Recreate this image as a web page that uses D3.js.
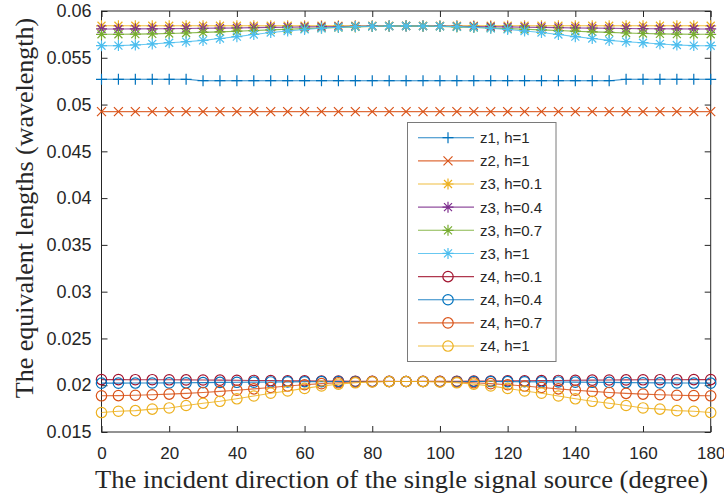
<!DOCTYPE html>
<html>
<head>
<meta charset="utf-8">
<script src="https://cdn.jsdelivr.net/npm/d3@7"></script>
<style>
  html, body { margin: 0; padding: 0; background: #fff; overflow: hidden; }
  svg { display: block; }
</style>
</head>
<body>
<svg id="chart" width="724" height="498"></svg>
<script>
// ---------------- DATA ----------------
const angles = [0,5,10,15,20,25,30,35,40,45,50,55,60,65,70,75,80,85,90,95,100,105,110,115,120,125,130,135,140,145,150,155,160,165,170,175,180];

const xTicks = [0,20,40,60,80,100,120,140,160,180];
const yTicks = [0.015,0.02,0.025,0.03,0.035,0.04,0.045,0.05,0.055,0.06];
const yTickLabels = ["0.015","0.02","0.025","0.03","0.035","0.04","0.045","0.05","0.055","0.06"];

const z1_h1 = [0.0527,0.0527,0.0527,0.0527,0.0527,0.0527,0.05255,0.05255,0.05255,0.05255,0.05255,0.05255,0.05255,0.05255,0.05255,0.05255,0.05255,0.05255,0.05255,0.05255,0.05255,0.05255,0.05255,0.05255,0.05255,0.05255,0.05255,0.05255,0.05255,0.05255,0.05255,0.0527,0.0527,0.0527,0.0527,0.0527,0.0527];
const z2_h1 = [0.04924,0.04924,0.04924,0.04924,0.04924,0.04924,0.04924,0.04924,0.04924,0.04924,0.04924,0.04924,0.04924,0.04924,0.04924,0.04924,0.04924,0.04924,0.04924,0.04924,0.04924,0.04924,0.04924,0.04924,0.04924,0.04924,0.04924,0.04924,0.04924,0.04924,0.04924,0.04924,0.04924,0.04924,0.04924,0.04924,0.04924];
const z3_h01 = [0.05842,0.05842,0.05842,0.05842,0.05842,0.05842,0.05842,0.05842,0.05842,0.05842,0.05842,0.05842,0.05842,0.05842,0.05842,0.05842,0.05842,0.05842,0.05842,0.05842,0.05842,0.05842,0.05842,0.05842,0.05842,0.05842,0.05842,0.05842,0.05842,0.05842,0.05842,0.05842,0.05842,0.05842,0.05842,0.05842,0.05842];
const z3_h04 = [0.05808,0.05808,0.05809,0.05810,0.05811,0.05813,0.05815,0.05817,0.05819,0.05822,0.05825,0.05827,0.05830,0.05832,0.05834,0.05836,0.05838,0.05839,0.0584,0.05839,0.05838,0.05836,0.05834,0.05832,0.05830,0.05827,0.05825,0.05822,0.05819,0.05817,0.05815,0.05813,0.05811,0.05810,0.05809,0.05808,0.05808];
const z3_h07 = [0.05751,0.05751,0.05753,0.05756,0.05760,0.05765,0.05771,0.05777,0.05784,0.05791,0.05798,0.05805,0.05812,0.05818,0.05824,0.05830,0.05835,0.05838,0.0584,0.05838,0.05835,0.05830,0.05824,0.05818,0.05812,0.05805,0.05798,0.05791,0.05784,0.05777,0.05771,0.05765,0.05760,0.05756,0.05753,0.05751,0.05751];
const z3_h1 = [0.05629,0.05630,0.05637,0.05648,0.05661,0.05672,0.05686,0.05706,0.05726,0.05749,0.05770,0.05786,0.05803,0.05815,0.05826,0.05833,0.05837,0.05839,0.0584,0.05839,0.05837,0.05833,0.05826,0.05815,0.05803,0.05786,0.05770,0.05749,0.05726,0.05706,0.05686,0.05672,0.05661,0.05648,0.05637,0.05630,0.05629];
const z4_h01 = [0.0206,0.0206,0.02059,0.02059,0.02058,0.02057,0.02056,0.02054,0.02053,0.02051,0.0205,0.02048,0.02047,0.02045,0.02044,0.02043,0.02042,0.02041,0.0204,0.02041,0.02042,0.02043,0.02044,0.02045,0.02047,0.02048,0.0205,0.02051,0.02053,0.02054,0.02056,0.02057,0.02058,0.02059,0.02059,0.0206,0.0206];
const z4_h04 = [0.02022,0.02022,0.02023,0.02024,0.02025,0.02026,0.02028,0.0203,0.02031,0.02033,0.02035,0.02036,0.02037,0.02038,0.02039,0.0204,0.0204,0.0204,0.0204,0.0204,0.0204,0.0204,0.0204,0.02039,0.02038,0.02037,0.02036,0.02035,0.02033,0.02031,0.0203,0.02028,0.02026,0.02025,0.02024,0.02023,0.02022];
const z4_h07 = [0.01887,0.01889,0.01893,0.01898,0.01905,0.01913,0.01923,0.01934,0.01947,0.01961,0.01976,0.01991,0.02005,0.02017,0.02027,0.02034,0.02038,0.0204,0.0204,0.0204,0.02038,0.02034,0.02027,0.02017,0.02005,0.01991,0.01976,0.01961,0.01947,0.01934,0.01923,0.01913,0.01905,0.01898,0.01893,0.01889,0.01887];
const z4_h1 = [0.01708,0.01722,0.01728,0.01745,0.01757,0.01783,0.01807,0.01828,0.01855,0.01885,0.01915,0.01938,0.01966,0.01992,0.02012,0.02026,0.02035,0.02039,0.0204,0.02039,0.02035,0.02026,0.02012,0.01992,0.01966,0.01938,0.01915,0.01885,0.01855,0.01828,0.01807,0.01783,0.01757,0.01745,0.01728,0.01722,0.01708];

const seriesNames = ["z1, h=1","z2, h=1","z3, h=0.1","z3, h=0.4","z3, h=0.7","z3, h=1","z4, h=0.1","z4, h=0.4","z4, h=0.7","z4, h=1"];
const seriesValues = [z1_h1, z2_h1, z3_h01, z3_h04, z3_h07, z3_h1, z4_h01, z4_h04, z4_h07, z4_h1];
const seriesMarkers = ["plus","cross","star","star","star","star","circle","circle","circle","circle"];
const seriesColors = ["#0072BD","#D95319","#EDB120","#7E2F8E","#77AC30","#4DBEEE","#A2142F","#0072BD","#D95319","#EDB120"];

const xTitle = "The incident direction of the single signal source (degree)";
const yTitle = "The equivalent lengths (wavelength)";

// ---------------- LAYOUT ----------------
const L = 101.5, R = 710.7, T = 11, B = 432;
const axisColor = "#262626";

const svg = d3.select("#chart");
svg.append("rect").attr("width", 724).attr("height", 498).attr("fill", "#fff");

const x = d3.scaleLinear().domain([0, 180]).range([L, R]);
const y = d3.scaleLinear().domain([0.015, 0.06]).range([B, T]);

svg.append("defs").append("clipPath").attr("id", "clip")
  .append("rect").attr("x", L - 8).attr("y", T - 8).attr("width", R - L + 16).attr("height", B - T + 16);

const tickFont = "'Liberation Sans', Arial, Helvetica, sans-serif";
const xAxisB = d3.axisBottom(x).tickValues(xTicks).tickSize(-6).tickPadding(15).tickFormat(d3.format("d"));
const xAxisT = d3.axisTop(x).tickValues(xTicks).tickSize(-6).tickFormat("");
const yAxisL = d3.axisLeft(y).tickValues(yTicks).tickSize(-6).tickPadding(10).tickFormat((d, i) => yTickLabels[i]);
const yAxisR = d3.axisRight(y).tickValues(yTicks).tickSize(-6).tickFormat("");

function styleAxis(g, size) {
  g.selectAll(".tick line").attr("stroke", axisColor).attr("stroke-width", 1);
  g.selectAll(".tick text").attr("fill", axisColor).style("font-family", tickFont).style("font-size", size + "px");
}
svg.append("g").attr("transform", `translate(0,${B})`).call(xAxisB).call(styleAxis, 17)
  .selectAll(".tick text").attr("dy", "0.71em");
svg.append("g").attr("transform", `translate(0,${T})`).call(xAxisT).call(styleAxis, 17);
svg.append("g").attr("transform", `translate(${L},0)`).call(yAxisL).call(styleAxis, 18);
svg.append("g").attr("transform", `translate(${R},0)`).call(yAxisR).call(styleAxis, 18);
svg.selectAll("path.domain").attr("d", null);
svg.append("rect").attr("x", L).attr("y", T).attr("width", R - L).attr("height", B - T)
  .attr("fill", "none").attr("stroke", axisColor).attr("stroke-width", 1);

function drawMarker(g, type, cx, cy, color) {
  if (type === "plus") {
    g.append("path").attr("d", `M${cx-5.5},${cy}H${cx+5.5}M${cx},${cy-5.5}V${cy+5.5}`)
      .attr("stroke", color).attr("stroke-width", 1.2).attr("fill", "none");
  } else if (type === "cross") {
    const s = 4.5;
    g.append("path").attr("d", `M${cx-s},${cy-s}L${cx+s},${cy+s}M${cx-s},${cy+s}L${cx+s},${cy-s}`)
      .attr("stroke", color).attr("stroke-width", 1.2).attr("fill", "none");
  } else if (type === "star") {
    const a = 5.5, s = 4;
    g.append("path").attr("d", `M${cx-a},${cy}H${cx+a}M${cx},${cy-a}V${cy+a}M${cx-s},${cy-s}L${cx+s},${cy+s}M${cx-s},${cy+s}L${cx+s},${cy-s}`)
      .attr("stroke", color).attr("stroke-width", 1.2).attr("fill", "none");
  } else if (type === "circle") {
    g.append("circle").attr("cx", cx).attr("cy", cy).attr("r", 5.2)
      .attr("stroke", color).attr("stroke-width", 1.2).attr("fill", "none");
  }
}

const plot = svg.append("g").attr("clip-path", "url(#clip)");
const line = d3.line().x((d, i) => x(angles[i])).y(d => y(d));

seriesValues.forEach((vals, si) => {
  const g = plot.append("g");
  g.append("path").attr("d", line(vals)).attr("fill", "none")
    .attr("stroke", seriesColors[si]).attr("stroke-width", 1.1).attr("stroke-opacity", 0.85);
  vals.forEach((v, i) => drawMarker(g, seriesMarkers[si], x(angles[i]), y(v), seriesColors[si]));
});

const lg = svg.append("g");
const lgX = 407.5, lgY = 122.5, lgW = 148.5, lgH = 239;
lg.append("rect").attr("x", lgX).attr("y", lgY).attr("width", lgW).attr("height", lgH)
  .attr("fill", "#fff").attr("stroke", "#7a7a7a").attr("stroke-width", 1);
seriesNames.forEach((name, i) => {
  const cy = 137.7 + i * 23.15;
  lg.append("line").attr("x1", 418).attr("x2", 474).attr("y1", cy).attr("y2", cy)
    .attr("stroke", seriesColors[i]).attr("stroke-width", 1.1).attr("stroke-opacity", 0.85);
  drawMarker(lg, seriesMarkers[i], 448, cy, seriesColors[i]);
  lg.append("text").attr("x", 480).attr("y", cy).attr("dy", "0.36em")
    .style("font-family", tickFont).style("font-size", "15px").attr("fill", axisColor).text(name);
});

const titleFont = "'Liberation Serif', 'Times New Roman', serif";
svg.append("text").attr("x", 401.5).attr("y", 487.5).attr("text-anchor", "middle")
  .style("font-family", titleFont).style("font-size", "26px").attr("fill", axisColor)
  .attr("textLength", 613).attr("lengthAdjust", "spacingAndGlyphs").text(xTitle);
svg.append("text").attr("transform", "translate(32.5,208) rotate(-90)").attr("text-anchor", "middle")
  .style("font-family", titleFont).style("font-size", "26px").attr("fill", axisColor)
  .text(yTitle);
</script>
</body>
</html>
